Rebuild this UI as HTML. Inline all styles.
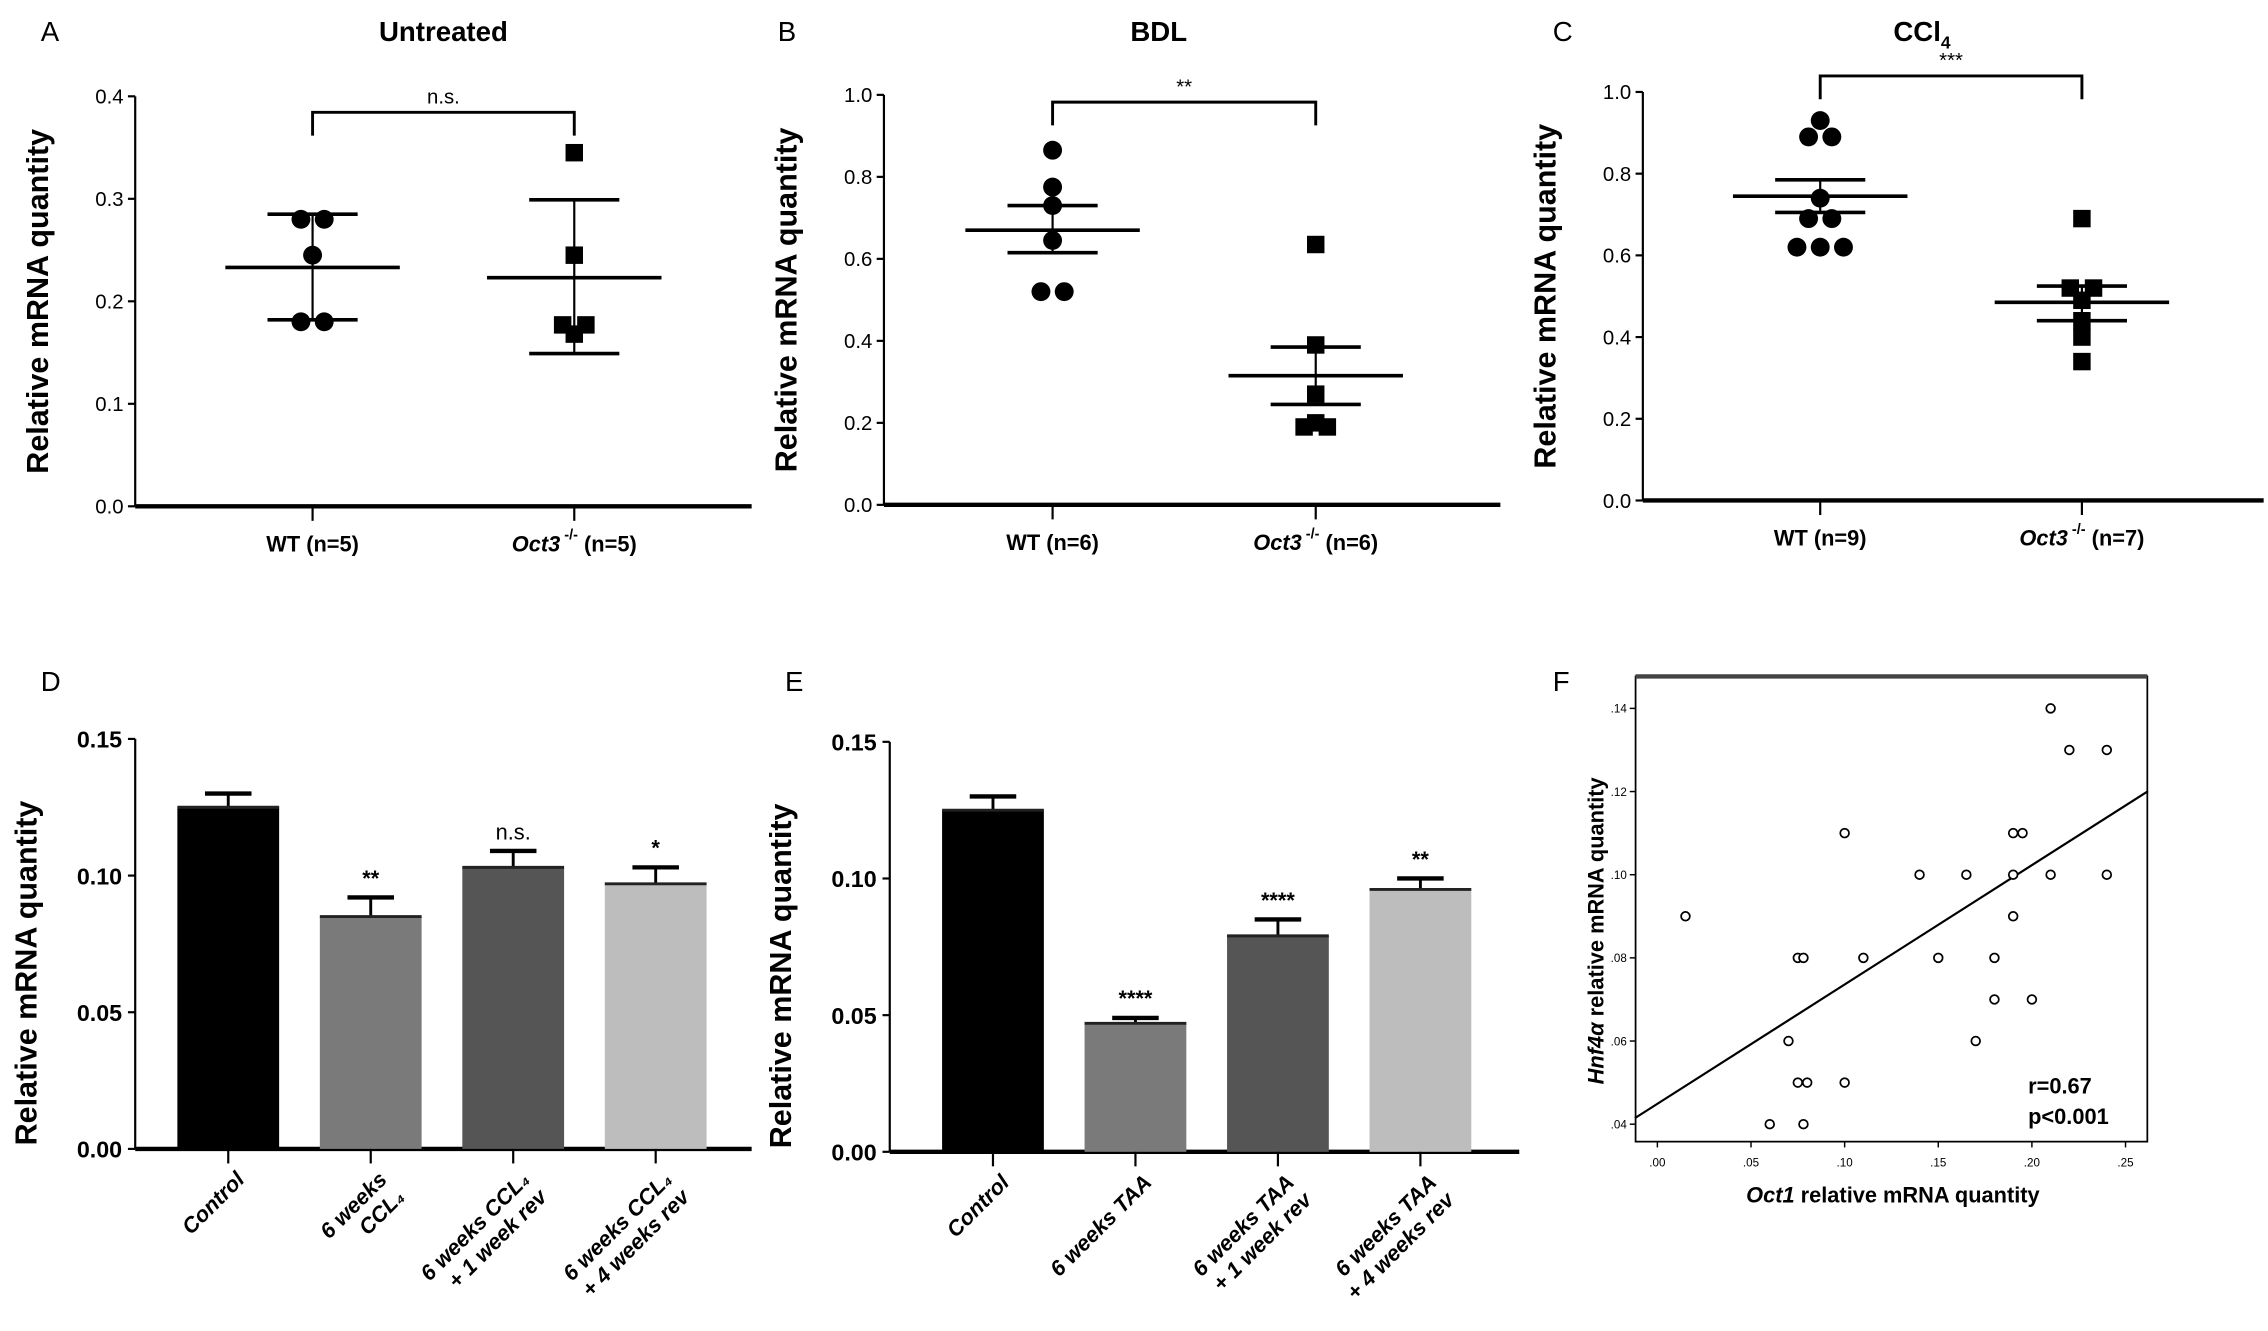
<!DOCTYPE html>
<html><head><meta charset="utf-8"><style>
html,body{margin:0;padding:0;background:#fff}
svg{display:block;font-family:"Liberation Sans",sans-serif}
</style></head><body>
<svg id="fig" width="2268" height="1331" viewBox="0 0 1560 915" xmlns="http://www.w3.org/2000/svg">
<rect width="1560" height="915" fill="#fff"/>
</svg>
<script>
// ---- data ----
const scatCats = ["WT", "Oct3"];
const aWT = [0.28,0.28,0.245,0.18,0.18];
const aOct = [0.345,0.245,0.177,0.177,0.168];
const aMean = [0.233,0.223];
const aSem = [[0.182,0.285],[0.149,0.299]];
const aTicks = ["0.0","0.1","0.2","0.3","0.4"];
const bWT = [0.865,0.775,0.73,0.645,0.52,0.52];
const bOct = [0.635,0.39,0.27,0.2,0.19,0.19];
const bMean = [0.67,0.315];
const bSem = [[0.615,0.73],[0.245,0.385]];
const cWT = [0.93,0.89,0.89,0.74,0.69,0.69,0.62,0.62,0.62];
const cOct = [0.69,0.52,0.52,0.49,0.44,0.40,0.34];
const cMean = [0.745,0.485];
const cSem = [[0.705,0.785],[0.44,0.525]];
const unitTicks = ["0.0","0.2","0.4","0.6","0.8","1.0"];
const dVals = [0.125,0.085,0.103,0.097];
const dErr = [0.005,0.007,0.006,0.006];
const dSig = ["","**","n.s.","*"];
const eVals = [0.125,0.047,0.079,0.096];
const eErr = [0.005,0.002,0.006,0.004];
const eSig = ["","****","****","**"];
const barTicks = ["0.00","0.05","0.10","0.15"];
const fX = [0.21,0.22,0.24,0.10,0.19,0.195,0.14,0.165,0.19,0.21,0.24,0.015,0.19,0.075,0.078,0.11,0.15,0.18,0.18,0.20,0.07,0.17,0.075,0.08,0.10,0.06,0.078];
const fY = [0.14,0.13,0.13,0.11,0.11,0.11,0.10,0.10,0.10,0.10,0.10,0.09,0.09,0.08,0.08,0.08,0.08,0.08,0.07,0.07,0.06,0.06,0.05,0.05,0.05,0.04,0.04];
const fXTicks = [".00",".05",".10",".15",".20",".25"];
const fYTicks = [".04",".06",".08",".10",".12",".14"];
const fFit = [0.0449,0.287];

const svg = document.getElementById('fig');
const NS = "http://www.w3.org/2000/svg";
function el(tag, attrs, parent, text){
  const e = document.createElementNS(NS, tag);
  for (const k in attrs) e.setAttribute(k, attrs[k]);
  if (text !== undefined) e.textContent = text;
  (parent||svg).appendChild(e); return e;
}
function txt(x,y,s,size,opts,parent){
  const o = Object.assign({x:x,y:y,'font-size':size,'text-anchor':'middle',fill:'#000'}, opts||{});
  return el('text', o, parent, s);
}

function scatterPanel(cfg){
  const g = el('g', {});
  
  
  const ys = v => cfg.y0 - (v/cfg.max)*(cfg.y0-cfg.yTop);
  const l = txt(cfg.letterX, 28, cfg.letter, 19, {'text-anchor':'start'}, g);
   
  const t = txt(cfg.titleX, 28, cfg.title, 19, {'font-weight':'bold'}, g);
   
  if (cfg.sub){ el('tspan', {'font-size':12, dy:5}, t, cfg.sub); }
  el('line',{x1:cfg.ax,y1:cfg.yTop,x2:cfg.ax,y2:cfg.y0,stroke:'#000','stroke-width':1.5},g);
  const xa = el('line',{x1:cfg.ax,y1:cfg.y0,x2:cfg.ax2,y2:cfg.y0,stroke:'#000','stroke-width':3},g);
   
  cfg.ticks.forEach((s,i)=>{
    const v = i*cfg.max/(cfg.ticks.length-1), y = ys(v);
    el('line',{x1:cfg.ax-5,y1:y,x2:cfg.ax,y2:y,stroke:'#000','stroke-width':1.5},g);
    const tl = txt(cfg.ax-8, y+5, s, 14, {'text-anchor':'end'}, g);
     
  });
  const yt = txt(0,0,'Relative mRNA quantity',21,{'font-weight':'bold',transform:`translate(${cfg.ax-60},${(cfg.y0+cfg.yTop)/2}) rotate(-90)`},g);
   
  const groups = [cfg.wt, cfg.oct];
  cfg.cx.forEach((cx,gi)=>{
    el('line',{x1:cx,y1:cfg.y0,x2:cx,y2:cfg.y0+10,stroke:'#000','stroke-width':1.5},g);
    const lab = el('text',{x:cx,y:cfg.y0+31,'font-size':15,'font-weight':'bold','text-anchor':'middle'},g);
     
    if (gi===0){ lab.textContent = 'WT  (n='+groups[0].length+')'; }
    else { el('tspan',{'font-style':'italic'},lab,'Oct3'); el('tspan',{'font-size':10,dy:-8},lab,' -/-'); el('tspan',{dy:8},lab,' (n='+groups[1].length+')'); }
    // points: place duplicates side by side
    const vals = groups[gi];
    const seen = {};
    vals.forEach(v=>{ const k=v.toFixed(3); seen[k]=(seen[k]||0)+1; });
    const cnt = {};
    vals.forEach(v=>{
      const k=v.toFixed(3); const n=seen[k]; cnt[k]=(cnt[k]||0);
      const off = (cnt[k]-(n-1)/2)*16; cnt[k]++;
      const x = cx+off, y = ys(v);
      let m;
      if (gi===0) m = el('circle',{cx:x,cy:y,r:6.5,fill:'#000'},g);
      else m = el('rect',{x:x-6,y:y-6,width:12,height:12,fill:'#000'},g);
      
      
    });
    const mean = el('line',{x1:cx-60,y1:ys(cfg.mean[gi]),x2:cx+60,y2:ys(cfg.mean[gi]),stroke:'#000','stroke-width':2.5},g);
     
    const [lo,hi] = cfg.sem[gi];
    el('line',{x1:cx,y1:ys(lo),x2:cx,y2:ys(hi),stroke:'#000','stroke-width':1.5},g);
    el('line',{x1:cx-31,y1:ys(lo),x2:cx+31,y2:ys(lo),stroke:'#000','stroke-width':2.5},g);
    el('line',{x1:cx-31,y1:ys(hi),x2:cx+31,y2:ys(hi),stroke:'#000','stroke-width':2.5},g);
  });
  const br = el('path',{d:`M${cfg.cx[0]} ${cfg.brY+16}V${cfg.brY}H${cfg.cx[1]}V${cfg.brY+16}`,fill:'none',stroke:'#000','stroke-width':2},g);
   
  const sg = txt((cfg.cx[0]+cfg.cx[1])/2, cfg.brY-6, cfg.sig, 14, {}, g);
   
}
scatterPanel({name:'panel-a',letter:'A',letterX:28,title:'Untreated',titleX:305,ax:93,ax2:517,y0:348,yTop:66,max:0.4,ticks:aTicks,cx:[215,395],wt:aWT,oct:aOct,mean:aMean,sem:aSem,brY:77,sig:'n.s.'});
scatterPanel({name:'panel-b',letter:'B',letterX:535,title:'BDL',titleX:797,ax:608,ax2:1032,y0:347,yTop:65,max:1.0,ticks:unitTicks,cx:[724,905],wt:bWT,oct:bOct,mean:bMean,sem:bSem,brY:70,sig:'**'});
scatterPanel({name:'panel-c',letter:'C',letterX:1068,title:'CCl',sub:'4',titleX:1322,ax:1130,ax2:1557,y0:344,yTop:63,max:1.0,ticks:unitTicks,cx:[1252,1432],wt:cWT,oct:cOct,mean:cMean,sem:cSem,brY:52,sig:'***'});

function barPanel(cfg){
  const g = el('g',{});
  
  
  const ys = v => cfg.y0 - (v/0.15)*(cfg.y0-cfg.yTop);
  const l = txt(cfg.letterX, 475, cfg.letter, 19, {'text-anchor':'start'}, g);
   
  el('line',{x1:cfg.ax,y1:cfg.yTop,x2:cfg.ax,y2:cfg.y0,stroke:'#000','stroke-width':1.5},g);
  const xa = el('line',{x1:cfg.ax,y1:cfg.y0,x2:cfg.ax2,y2:cfg.y0,stroke:'#000','stroke-width':3},g);
   
  barTicks.forEach((s,i)=>{
    const y = ys(i*0.05);
    el('line',{x1:cfg.ax-5,y1:y,x2:cfg.ax,y2:y,stroke:'#000','stroke-width':1.5},g);
    const tl = txt(cfg.ax-9,y+6,s,16,{'text-anchor':'end','font-weight':'bold'},g);
     
  });
  const yt = txt(0,0,'Relative mRNA quantity',21,{'font-weight':'bold',transform:`translate(${cfg.ax-68},${(cfg.y0+cfg.yTop)/2+20}) rotate(-90)`},g);
   
  const colors = ['#000','#7a7a7a','#555','#bdbdbd'];
  cfg.vals.forEach((v,i)=>{
    const cx = cfg.cx0 + i*cfg.step, w = 70;
    const top = ys(v), et = ys(v+cfg.err[i]);
    el('line',{x1:cx,y1:top,x2:cx,y2:et,stroke:'#000','stroke-width':2},g);
    el('line',{x1:cx-16,y1:et,x2:cx+16,y2:et,stroke:'#000','stroke-width':3},g);
    const b = el('rect',{x:cx-w/2,y:top,width:w,height:cfg.y0-top,fill:colors[i]},g);
     
    el('line',{x1:cx-w/2,y1:top,x2:cx+w/2,y2:top,stroke:'#222','stroke-width':2},g);
    el('line',{x1:cx,y1:cfg.y0,x2:cx,y2:cfg.y0+10,stroke:'#000','stroke-width':1.5},g);
    if (cfg.sig[i]){
      const s = txt(cx, et-8, cfg.sig[i], 15, {'font-weight':cfg.sig[i]==='n.s.'?'normal':'bold'}, g);
       
    }
    const lines = cfg.labels[i];
    const lt = el('text',{'font-size':15,'font-weight':'bold','font-style':'italic','text-anchor':'end',transform:`translate(${cx+12},${cfg.y0+22}) rotate(-45)`},g);
     
    lines.forEach((ln,j)=>{ el('tspan',{x:0,y:(j-(lines.length-1))*17+ (lines.length-1)*17},lt,ln); });
  });
}
barPanel({name:'panel-d',letter:'D',letterX:28,ax:93,ax2:517,y0:790,yTop:508,cx0:157,step:98,vals:dVals,err:dErr,sig:dSig,
  labels:[['Control'],['6 weeks','CCL₄'],['6 weeks CCL₄','+ 1 week rev'],['6 weeks CCL₄','+ 4 weeks rev']]});
barPanel({name:'panel-e',letter:'E',letterX:540,ax:612,ax2:1045,y0:792,yTop:510,cx0:683,step:98,vals:eVals,err:eErr,sig:eSig,
  labels:[['Control'],['6 weeks   TAA'],['6 weeks TAA','+ 1 week rev'],['6 weeks TAA','+ 4 weeks rev']]});

// Panel F scatter
(function(){
  const g = el('g',{});
  
  
  const L=1125,R=1477,T=465,B=785;
  const xs = v => 1140 + v*1288, ys = v => 773 - (v-0.04)*2860;
  const l = txt(1068,475,'F',19,{'text-anchor':'start'},g);
   
  const box = el('rect',{x:L,y:T,width:R-L,height:B-T,fill:'none',stroke:'#000','stroke-width':1.2},g);
   
  el('line',{x1:L,y1:T,x2:R,y2:T,stroke:'#444','stroke-width':3},g);
  fXTicks.forEach((s,i)=>{
    const x = xs(i*0.05);
    el('line',{x1:x,y1:B,x2:x,y2:B+4,stroke:'#000','stroke-width':1},g);
    const tl = txt(x,B+17,s,8,{},g);
     
  });
  fYTicks.forEach((s,i)=>{
    const y = ys(0.04+i*0.02);
    el('line',{x1:L-4,y1:y,x2:L,y2:y,stroke:'#000','stroke-width':1},g);
    const tl = txt(L-6,y+3,s,8,{'text-anchor':'end'},g);
     
  });
  const x0=-0.012,x1=0.262;
  const fit = el('line',{x1:xs(x0),y1:ys(fFit[0]+fFit[1]*x0),x2:xs(x1),y2:ys(fFit[0]+fFit[1]*x1),stroke:'#000','stroke-width':1.5},g);
   
  fX.forEach((x,i)=>{
    const c = el('circle',{cx:xs(x),cy:ys(fY[i]),r:3,fill:'#fff',stroke:'#000','stroke-width':1.2},g);
     
  });
  const xt = el('text',{x:1302,y:827,'font-size':15,'font-weight':'bold','text-anchor':'middle'},g);
   
  el('tspan',{'font-style':'italic'},xt,'Oct1'); el('tspan',{},xt,' relative mRNA quantity');
  const yt = el('text',{'font-size':15,'font-weight':'bold','text-anchor':'middle',transform:'translate(1103,640) rotate(-90)'},g);
   
  el('tspan',{'font-style':'italic'},yt,'Hnf4α'); el('tspan',{},yt,' relative mRNA  quantity');
  const r = txt(1395,752,'r=0.67',15,{'text-anchor':'start','font-weight':'bold'},g);
   
  const p = txt(1395,773,'p<0.001',15,{'text-anchor':'start','font-weight':'bold'},g);
   
})();
</script>
</body></html>
